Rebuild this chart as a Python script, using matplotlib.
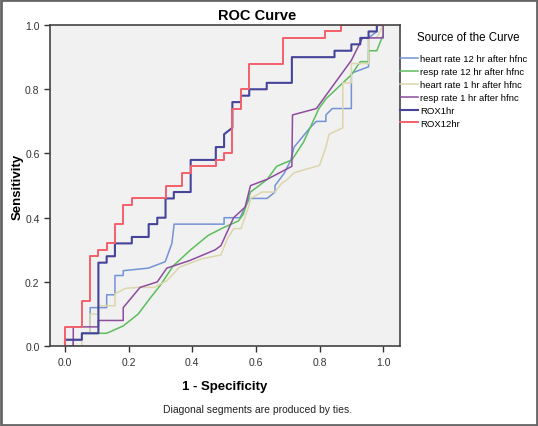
import matplotlib
matplotlib.use("Agg")
import matplotlib.pyplot as plt
from matplotlib.patches import Rectangle

plt.rcParams["font.family"] = ["Liberation Sans", "DejaVu Sans"]

# curve vertices (1 - specificity, sensitivity)
hr12_x = [0, 0.026, 0.026, 0.053, 0.053, 0.079, 0.079, 0.131, 0.131, 0.157, 0.157, 0.183, 0.183,
          0.262, 0.315, 0.336, 0.343, 0.50, 0.50, 0.55, 0.58, 0.635, 0.66, 0.66, 0.69, 0.71,
          0.72, 0.745, 0.77, 0.79, 0.82, 0.82, 0.84, 0.90, 0.90, 0.954, 0.954, 0.98, 0.98, 1.0]
hr12_y = [0, 0, 0.02, 0.02, 0.04, 0.04, 0.12, 0.12, 0.16, 0.16, 0.22, 0.22, 0.235,
          0.243, 0.263, 0.32, 0.38, 0.38, 0.40, 0.40, 0.46, 0.46, 0.48, 0.50, 0.54, 0.58,
          0.62, 0.65, 0.68, 0.70, 0.70, 0.72, 0.74, 0.74, 0.85, 0.87, 0.96, 0.98, 1.0, 1.0]

rr12_x = [0, 0, 0.053, 0.053, 0.131, 0.183, 0.23, 0.268, 0.30, 0.34, 0.395, 0.45, 0.50, 0.545,
          0.56, 0.583, 0.61, 0.636, 0.665, 0.713, 0.75, 0.798, 0.82, 0.90, 0.928, 0.954,
          0.954, 0.98, 1.0, 1.0]
rr12_y = [0, 0.02, 0.02, 0.04, 0.04, 0.063, 0.10, 0.15, 0.19, 0.25, 0.30, 0.345, 0.37, 0.39,
          0.41, 0.48, 0.50, 0.52, 0.56, 0.58, 0.636, 0.74, 0.77, 0.845, 0.886, 0.886,
          0.92, 0.92, 0.97, 1.0]

hr1_x = [0, 0.053, 0.053, 0.079, 0.079, 0.105, 0.105, 0.157, 0.157, 0.19, 0.23, 0.28, 0.32,
         0.36, 0.43, 0.49, 0.51, 0.53, 0.553, 0.579, 0.583, 0.62, 0.66, 0.68, 0.70, 0.72,
         0.80, 0.82, 0.83, 0.873, 0.873, 0.90, 0.90, 0.954, 0.954, 0.98, 1.0]
hr1_y = [0, 0, 0.04, 0.04, 0.10, 0.10, 0.126, 0.126, 0.163, 0.18, 0.183, 0.183, 0.204,
         0.246, 0.272, 0.284, 0.334, 0.366, 0.366, 0.44, 0.46, 0.48, 0.48, 0.506, 0.52, 0.54,
         0.563, 0.62, 0.66, 0.68, 0.82, 0.82, 0.88, 0.88, 0.96, 0.96, 1.0]

rr1_x = [0, 0.026, 0.026, 0.105, 0.105, 0.183, 0.183, 0.236, 0.29, 0.32, 0.393, 0.472, 0.49,
         0.53, 0.566, 0.583, 0.636, 0.713, 0.715, 0.79, 0.90, 0.935, 1.0, 1.0]
rr1_y = [0, 0, 0.06, 0.06, 0.08, 0.08, 0.12, 0.183, 0.20, 0.243, 0.267, 0.30, 0.313,
         0.40, 0.433, 0.50, 0.52, 0.56, 0.72, 0.74, 0.89, 0.96, 0.96, 1.0]

rox1_x = [0, 0, 0.053, 0.053, 0.105, 0.105, 0.131, 0.131, 0.157, 0.157, 0.21, 0.21, 0.263,
          0.263, 0.29, 0.29, 0.316, 0.316, 0.342, 0.342, 0.395, 0.395, 0.474, 0.474, 0.50,
          0.50, 0.526, 0.526, 0.553, 0.553, 0.579, 0.579, 0.634, 0.634, 0.713, 0.713, 0.847,
          0.847, 0.90, 0.90, 0.928, 0.928, 0.954, 0.954, 0.98, 0.98, 1.0]
rox1_y = [0, 0.02, 0.02, 0.04, 0.04, 0.26, 0.26, 0.28, 0.28, 0.32, 0.32, 0.34, 0.34,
          0.38, 0.38, 0.40, 0.40, 0.46, 0.46, 0.48, 0.48, 0.58, 0.58, 0.62, 0.62,
          0.66, 0.68, 0.76, 0.76, 0.78, 0.78, 0.80, 0.80, 0.82, 0.82, 0.90, 0.90,
          0.92, 0.92, 0.94, 0.94, 0.96, 0.96, 0.98, 0.98, 1.0, 1.0]

rox12_x = [0, 0, 0.053, 0.053, 0.079, 0.079, 0.105, 0.105, 0.131, 0.131, 0.157, 0.157, 0.183,
           0.183, 0.21, 0.21, 0.316, 0.316, 0.368, 0.368, 0.395, 0.395, 0.474, 0.474, 0.50,
           0.50, 0.526, 0.526, 0.553, 0.553, 0.579, 0.579, 0.684, 0.684, 0.816, 0.816, 0.868,
           0.868, 1.0]
rox12_y = [0, 0.06, 0.06, 0.14, 0.14, 0.28, 0.28, 0.30, 0.30, 0.32, 0.32, 0.38, 0.38,
           0.44, 0.44, 0.46, 0.46, 0.50, 0.50, 0.54, 0.54, 0.56, 0.56, 0.58, 0.58,
           0.60, 0.60, 0.74, 0.74, 0.80, 0.80, 0.88, 0.88, 0.96, 0.96, 0.98, 0.98,
           1.0, 1.0]

labels = ["heart rate 12 hr after hfnc", "resp rate 12 hr after hfnc",
          "heart rate 1 hr after hfnc", "resp rate 1 hr after hfnc", "ROX1hr", "ROX12hr"]
colors = ["#7393D6", "#5CBD5C", "#DCD6AC", "#8E4C9E", "#45449A", "#F4606A"]
widths = [1.1, 1.1, 1.1, 1.1, 1.5, 1.4]
curves = [(hr12_x, hr12_y), (rr12_x, rr12_y), (hr1_x, hr1_y),
          (rr1_x, rr1_y), (rox1_x, rox1_y), (rox12_x, rox12_y)]

fig = plt.figure(figsize=(5.38, 4.27), dpi=100)
ax = fig.add_axes([0.093, 0.187, 0.650, 0.752])
ax.set_facecolor("#F1F1F1")

for (xs, ys), lab, c, lw in zip(curves, labels, colors, widths):
    ax.plot(xs, ys, color=c, lw=lw, label=lab)

ax.set_xlim(-0.047, 1.052)
ax.set_ylim(0, 1.0)
ticks = [0.0, 0.2, 0.4, 0.6, 0.8, 1.0]
ax.set_xticks(ticks)
ax.set_yticks(ticks)
ax.set_xticklabels([f"{t:.1f}" for t in ticks])
ax.set_yticklabels([f"{t:.1f}" for t in ticks])
ax.tick_params(direction="out", length=4, width=1, labelsize=7.5, colors="#333333")
for s in ax.spines.values():
    s.set_color("#444444")
    s.set_linewidth(1.2)

fig.text(0.478, 0.962, "ROC Curve", ha="center", va="center", fontsize=10.5,
         fontweight="bold")
ax.set_xlabel("1 - Specificity", fontsize=9.5, fontweight="bold", labelpad=10)
ax.set_ylabel("Sensitivity", fontsize=9.5, fontweight="bold")
ax.yaxis.set_label_coords(-0.074, 0.5)

# legend title placed separately to get the wider gap above the entries
fig.text(0.775, 0.911, "Source of the Curve", ha="left", va="center", fontsize=8.3)
leg = ax.legend(loc="upper left", bbox_to_anchor=(1.0, 0.91), frameon=False,
                fontsize=6.8, handlelength=1.9, handletextpad=0.25, labelspacing=0.42,
                borderaxespad=0.0, borderpad=0.0)

fig.text(0.478, 0.04, "Diagonal segments are produced by ties.", ha="center",
         va="center", fontsize=7.5, color="#222222")

fig.patches.append(Rectangle((0.002, 0.002), 0.996, 0.996, transform=fig.transFigure,
                             fill=False, edgecolor="#666666", lw=2))

fig.savefig("out.png", dpi=100)
